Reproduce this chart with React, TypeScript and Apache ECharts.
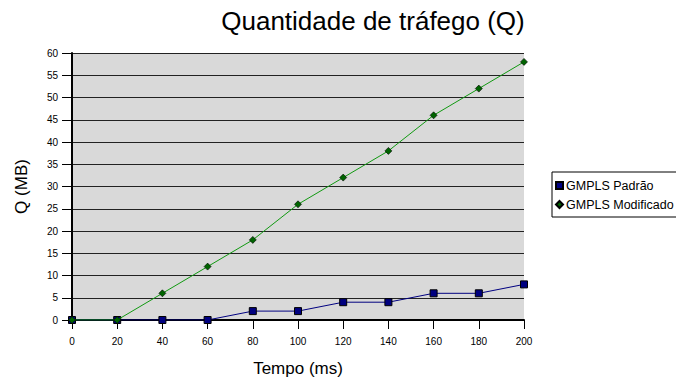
import React, { useEffect, useRef } from "react";
import * as echarts from "echarts";

const times = [0, 20, 40, 60, 80, 100, 120, 140, 160, 180, 200];
const padrao = [0, 0, 0, 0, 2, 2, 4, 4, 6, 6, 8];
const modificado = [0, 0, 6, 12, 18, 26, 32, 38, 46, 52, 58];
const seriesNames = ["GMPLS Padrão", "GMPLS Modificado"];
const FONT = "Liberation Sans";

export default function App() {
  const ref = useRef<HTMLDivElement>(null);
  useEffect(() => {
    const chart = echarts.init(ref.current!, null, { renderer: "svg" });
    chart.setOption({
      animation: false,
      backgroundColor: "#fff",
      textStyle: { fontFamily: FONT },
      title: {
        text: "Quantidade de tráfego (Q)",
        left: 368,
        textAlign: "center",
        top: 3,
        textStyle: { fontFamily: FONT, fontSize: 26, fontWeight: "normal", color: "#000" },
      },
      legend: {
        orient: "vertical",
        left: 552,
        top: 172,
        borderColor: "#000",
        borderWidth: 1,
        padding: [7, 6, 6, 3],
        itemGap: 6,
        itemWidth: 7,
        itemHeight: 7,
        textStyle: { fontFamily: FONT, fontSize: 12.5, color: "#000", padding: [0, 0, 0, -2] },
        data: [
          { name: seriesNames[0], icon: "rect" },
          { name: seriesNames[1], icon: "diamond" },
        ],
      },
      grid: { left: 72, right: 152, top: 53, bottom: 65, show: true, backgroundColor: "#d9d9d9", borderWidth: 0 },
      xAxis: {
        type: "value",
        min: 0,
        max: 200,
        interval: 20,
        name: "Tempo (ms)",
        nameLocation: "middle",
        nameGap: 40,
        nameTextStyle: { fontFamily: FONT, fontSize: 17, color: "#000" },
        axisLine: { show: true, lineStyle: { color: "#000", width: 2 } },
        axisTick: { show: true, length: 9, lineStyle: { color: "#000" } },
        axisLabel: { fontFamily: FONT, fontSize: 10, color: "#000", margin: 16 },
        splitLine: { show: false },
      },
      yAxis: {
        type: "value",
        min: 0,
        max: 60,
        interval: 5,
        name: "Q (MB)",
        nameLocation: "middle",
        nameGap: 42,
        nameTextStyle: { fontFamily: FONT, fontSize: 17, color: "#000" },
        axisLine: { show: true, lineStyle: { color: "#000", width: 2 } },
        axisTick: { show: true, length: 10, lineStyle: { color: "#000" } },
        axisLabel: { fontFamily: FONT, fontSize: 10, color: "#000", margin: 14 },
        splitLine: { show: true, lineStyle: { color: "#222", width: 1 } },
      },
      series: [
        {
          name: seriesNames[0],
          type: "line",
          data: times.map((t, i) => [t, padrao[i]]),
          symbol: "rect",
          symbolSize: 7,
          lineStyle: { color: "#000080", width: 1 },
          itemStyle: { color: "#000080", borderColor: "#000", borderWidth: 1 },
          z: 2,
        },
        {
          name: seriesNames[1],
          type: "line",
          data: times.map((t, i) => [t, modificado[i]]),
          symbol: "diamond",
          symbolSize: 7,
          lineStyle: { color: "#119911", width: 1 },
          itemStyle: { color: "#006400", borderColor: "#000", borderWidth: 0.6 },
          z: 3,
        },
      ],
    });
    return () => chart.dispose();
  }, []);
  return <div ref={ref} style={{ width: 676, height: 385, position: "absolute", left: 0, top: 0 }} />;
}
